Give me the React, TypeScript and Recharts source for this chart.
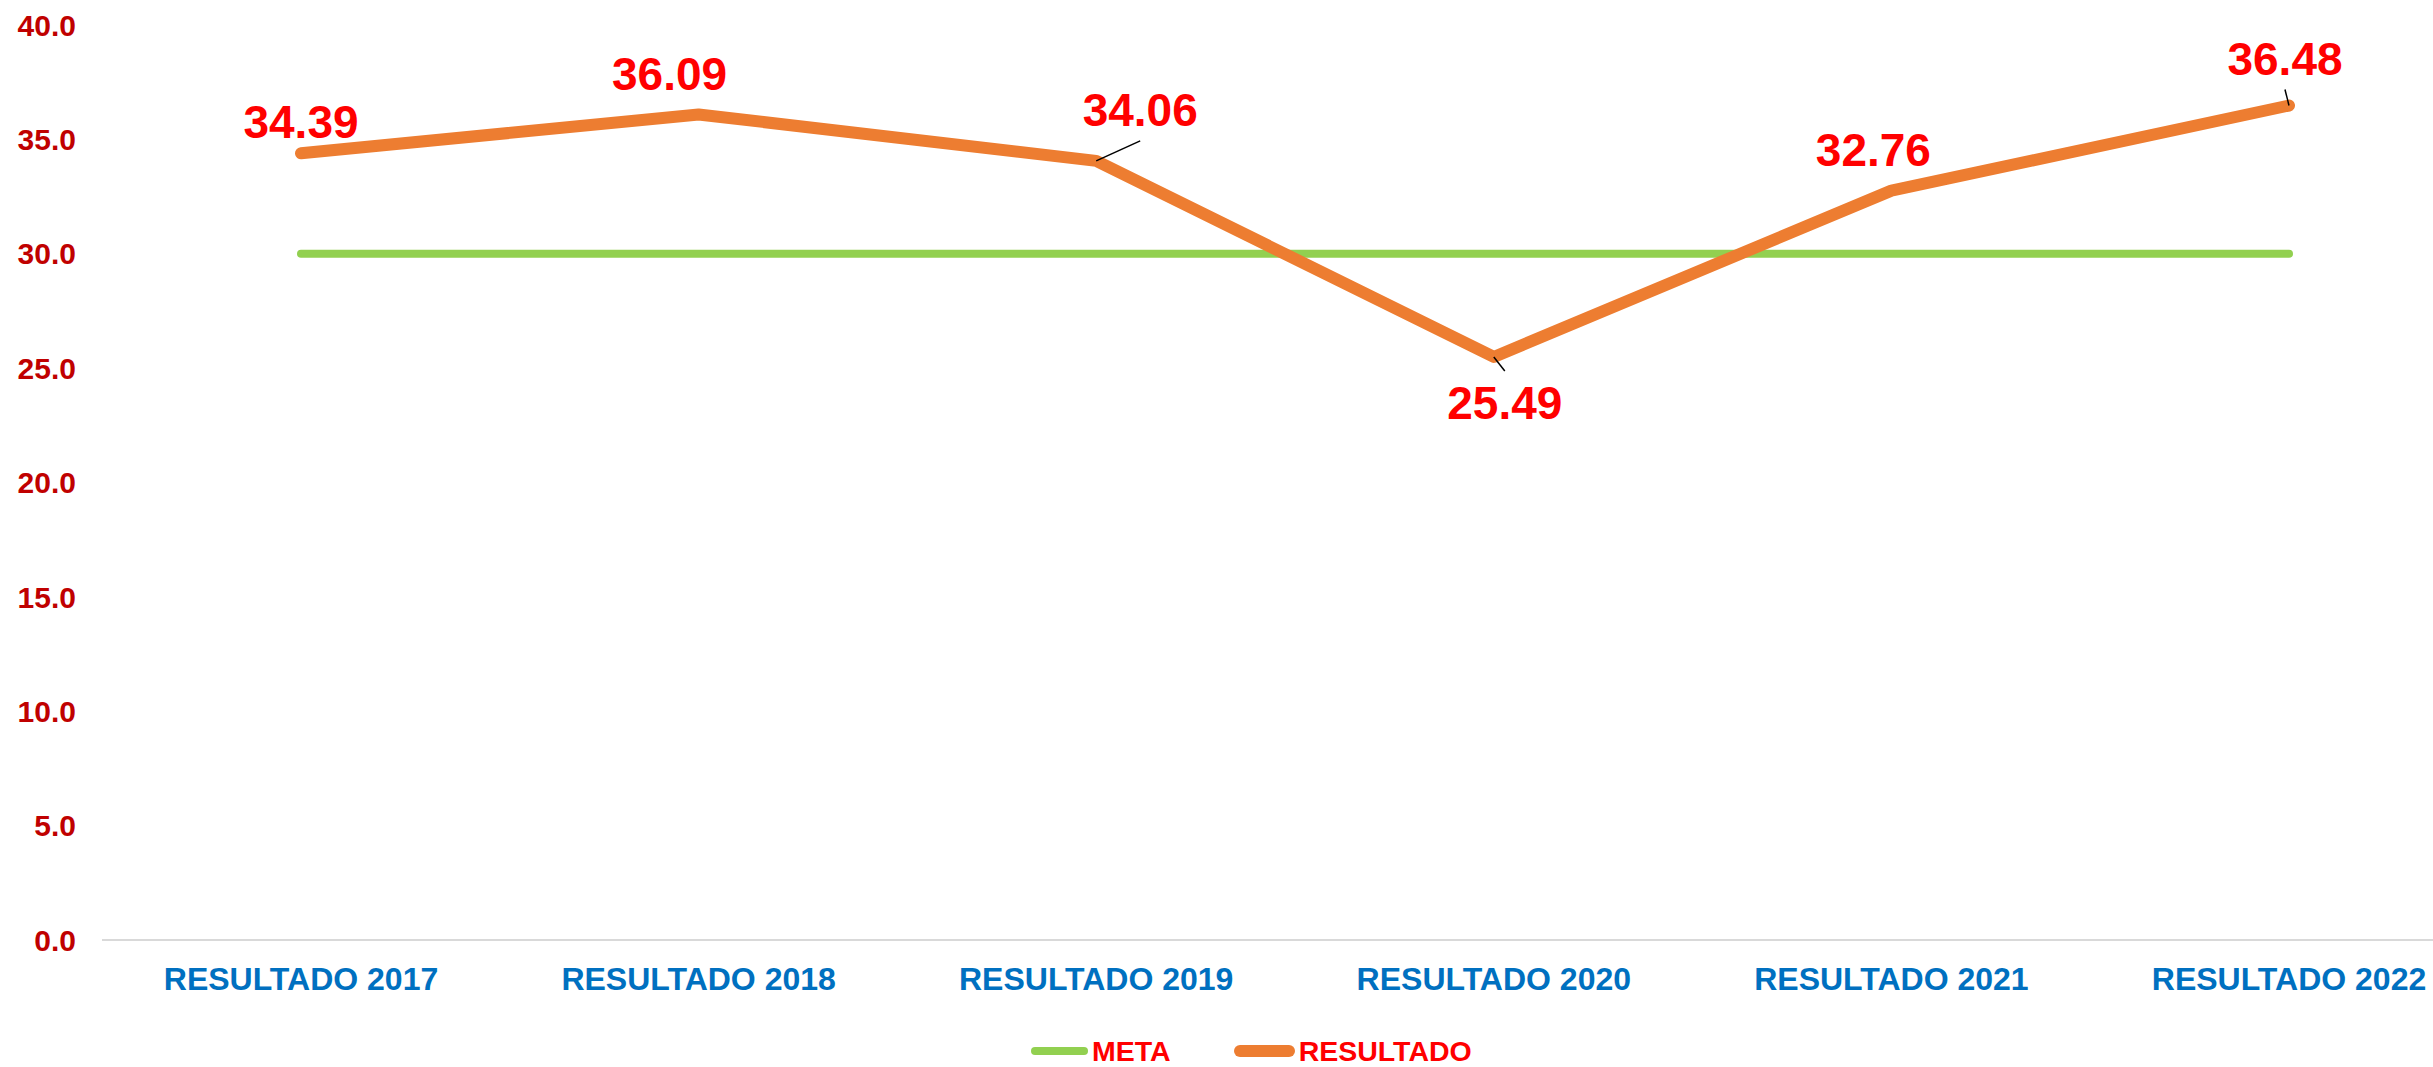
import { LabelList, Legend, Line, LineChart, XAxis, YAxis } from "recharts";

const categories = [
  "RESULTADO 2017",
  "RESULTADO 2018",
  "RESULTADO 2019",
  "RESULTADO 2020",
  "RESULTADO 2021",
  "RESULTADO 2022",
];
const metaValues = [30, 30, 30, 30, 30, 30];
const resultadoValues = [34.39, 36.09, 34.06, 25.49, 32.76, 36.48];
const yTicks = [0, 5, 10, 15, 20, 25, 30, 35, 40];

const data = categories.map((name, i) => ({
  name,
  meta: metaValues[i],
  resultado: resultadoValues[i],
}));

const FONT = '"Liberation Sans", Arial, sans-serif';
const GREEN = "#92d050";
const ORANGE = "#ed7d31";

// where each value label sits relative to its point (Excel moved some by hand)
const labelPlacement = [
  { dx: 0, dy: -32, leader: null },
  { dx: -29, dy: -41, leader: null },
  { dx: 44, dy: -51, leader: [44, -20] },
  { dx: 11, dy: 46, leader: [11, 14] },
  { dx: -18, dy: -41, leader: null },
  { dx: -4, dy: -47, leader: [-4, -16] },
];

function ValueLabel(props: any) {
  const { x, y, value, index } = props;
  const p = labelPlacement[index] || { dx: 0, dy: -35, leader: null };
  return (
    <g>
      {p.leader && (
        <line
          x1={x}
          y1={y}
          x2={x + p.leader[0]}
          y2={y + p.leader[1]}
          stroke="#000"
          strokeWidth={1.5}
        />
      )}
      <text
        x={x + p.dx}
        y={y + p.dy + 16.5}
        textAnchor="middle"
        fill="#ff0000"
        fontSize={46}
        fontWeight="bold"
        fontFamily={FONT}
      >
        {Number(value).toFixed(2)}
      </text>
    </g>
  );
}

function LegendContent() {
  const items = [
    { label: "META", color: GREEN, width: 57, stroke: 8 },
    { label: "RESULTADO", color: ORANGE, width: 61, stroke: 12 },
  ];
  return (
    <div style={{ display: "flex", alignItems: "center", paddingLeft: 1031, height: 32 }}>
      {items.map((it, i) => (
        <div key={it.label} style={{ display: "flex", alignItems: "center", marginLeft: i ? 63 : 0 }}>
          <svg width={it.width} height={16}>
            <line
              x1={it.stroke / 2}
              y1={8}
              x2={it.width - it.stroke / 2}
              y2={8}
              stroke={it.color}
              strokeWidth={it.stroke}
              strokeLinecap="round"
            />
          </svg>
          <span
            style={{
              marginLeft: 4,
              color: "#ff0000",
              fontFamily: FONT,
              fontWeight: "bold",
              fontSize: 28.5,
            }}
          >
            {it.label}
          </span>
        </div>
      ))}
    </div>
  );
}

export default function App() {
  return (
    <div
      style={{
        position: "absolute",
        left: 0,
        top: 0,
        width: 2433,
        height: 1067,
        overflow: "hidden",
        background: "#fff",
      }}
    >
      <LineChart
        width={2560}
        height={1067}
        data={data}
        margin={{ top: 25, right: 72, bottom: 0, left: 0 }}
      >
        <XAxis
          dataKey="name"
          height={127}
          padding={{ left: 199, right: 199 }}
          axisLine={{ stroke: "#d9d9d9", strokeWidth: 2 }}
          tickLine={false}
          tickMargin={21}
          tick={{ fill: "#0070c0", fontSize: 32, fontWeight: "bold", fontFamily: FONT }}
          interval={0}
        />
        <YAxis
          width={102}
          domain={[0, 40]}
          ticks={yTicks}
          tickFormatter={(v: number) => v.toFixed(1)}
          axisLine={false}
          tickLine={false}
          tickMargin={20}
          tick={{ fill: "#c00000", fontSize: 30, fontWeight: "bold", fontFamily: FONT }}
        />
        <Legend
          layout="horizontal"
          verticalAlign="middle"
          align="center"
          wrapperStyle={{ top: 1035, left: 0, width: 2433, height: 32 }}
          content={<LegendContent />}
        />
        <Line
          dataKey="meta"
          name="META"
          stroke={GREEN}
          strokeWidth={8}
          strokeLinecap="round"
          dot={false}
          activeDot={false}
          isAnimationActive={false}
        />
        <Line
          dataKey="resultado"
          name="RESULTADO"
          stroke={ORANGE}
          strokeWidth={12}
          strokeLinecap="round"
          strokeLinejoin="round"
          dot={false}
          activeDot={false}
          isAnimationActive={false}
        >
          <LabelList dataKey="resultado" content={<ValueLabel />} />
        </Line>
      </LineChart>
    </div>
  );
}
